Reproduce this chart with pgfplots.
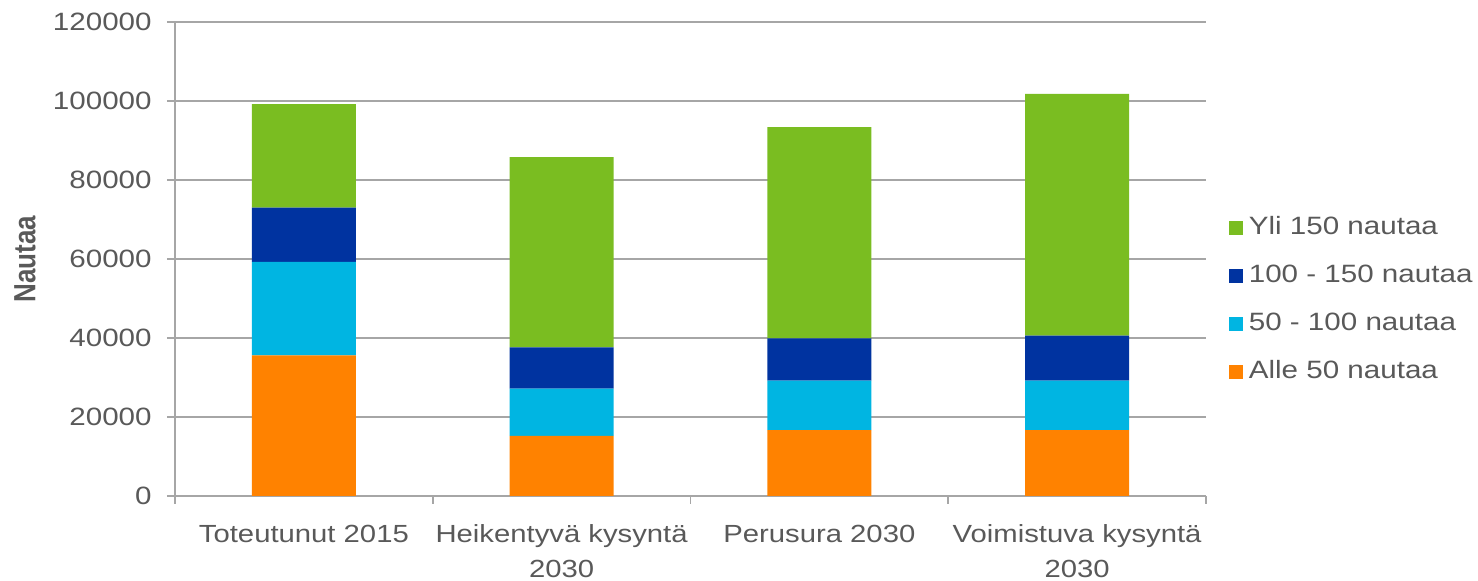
\documentclass[border=0pt]{standalone}
\usepackage{graphicx}
\usepackage{pgfplots}
\pgfplotsset{compat=1.18}
\usepackage{fontspec}
\setmainfont{Liberation Sans}[FakeStretch=1.18]
\newfontfamily\plainfont{Liberation Sans}
\definecolor{cgreen}{HTML}{7ABD21}
\definecolor{cblue}{HTML}{0033A0}
\definecolor{ccyan}{HTML}{00B5E2}
\definecolor{corange}{HTML}{FF8200}
\definecolor{ctext}{HTML}{595959}
\definecolor{cgrid}{HTML}{A6A6A6}
\begin{document}
\begin{tikzpicture}
\path[use as bounding box] (-131.25pt,-63.75pt) rectangle (977.25pt,372pt);
\begin{axis}[
  at={(0pt,0pt)}, anchor=south west,
  scale only axis, width=773.25pt, height=355.5pt,
  ybar stacked, bar width=78pt,
  xmin=-0.5, xmax=3.5, ymin=0, ymax=120000,
  ytick={0,20000,...,120000},
  xtick={0,1,2,3},
  xticklabels={Toteutunut 2015, Heikentyvä kysyntä\\2030, Perusura 2030, Voimistuva kysyntä\\2030},
  minor xtick={-0.5,0.5,1.5,2.5,3.5},
  major x tick style={draw=none},
  tick align=outside, major tick length=6pt, minor tick length=6pt,
  tick style={cgrid, line width=1.2pt},
  xticklabel style={align=center, text=ctext, font=\fontsize{18.6}{26}\selectfont, yshift=-12pt},
  yticklabel style={text=ctext, font=\fontsize{18.8}{22}\selectfont, xshift=-8pt},
  /pgf/number format/assume math mode=true,
  scaled y ticks=false,
  yticklabel={\pgfmathprintnumber[fixed,1000 sep={}]{\tick}},
  ymajorgrids, grid style={cgrid, line width=1.2pt},
  axis x line*=bottom, axis y line*=left,
  axis line style={cgrid, line width=1.2pt},
  ylabel={\scalebox{1}[1.18]{\plainfont\bfseries Nautaa}},
  ylabel style={text=ctext, font=\fontsize{19.5}{22}\selectfont, at={(-0.1455,0.5)}, anchor=center},
  legend style={at={(1.018,0.413)}, anchor=west, draw=none, fill=none,
    font=\fontsize{18.8}{22}\selectfont, text=ctext, row sep=19pt,
    nodes={inner sep=0pt, text height=13pt, text depth=4pt},
    /tikz/every odd column/.append style={column sep=4.5pt}},
  legend cell align=left,
  reverse legend,
  legend image code/.code={\fill[#1, draw=none] (0pt,-5pt) rectangle (10.5pt,5.5pt);},
]
\addplot[fill=corange, draw=none] coordinates {(0,35600) (1,15200) (2,16700) (3,16700)};
\addplot[fill=ccyan, draw=none] coordinates {(0,23700) (1,12000) (2,12500) (3,12500)};
\addplot[fill=cblue, draw=none] coordinates {(0,13700) (1,10400) (2,10700) (3,11400)};
\addplot[fill=cgreen, draw=none] coordinates {(0,26200) (1,48200) (2,53500) (3,61200)};
\legend{Alle 50 nautaa, 50 - 100 nautaa, 100 - 150 nautaa, Yli 150 nautaa}
\end{axis}
\end{tikzpicture}
\end{document}
